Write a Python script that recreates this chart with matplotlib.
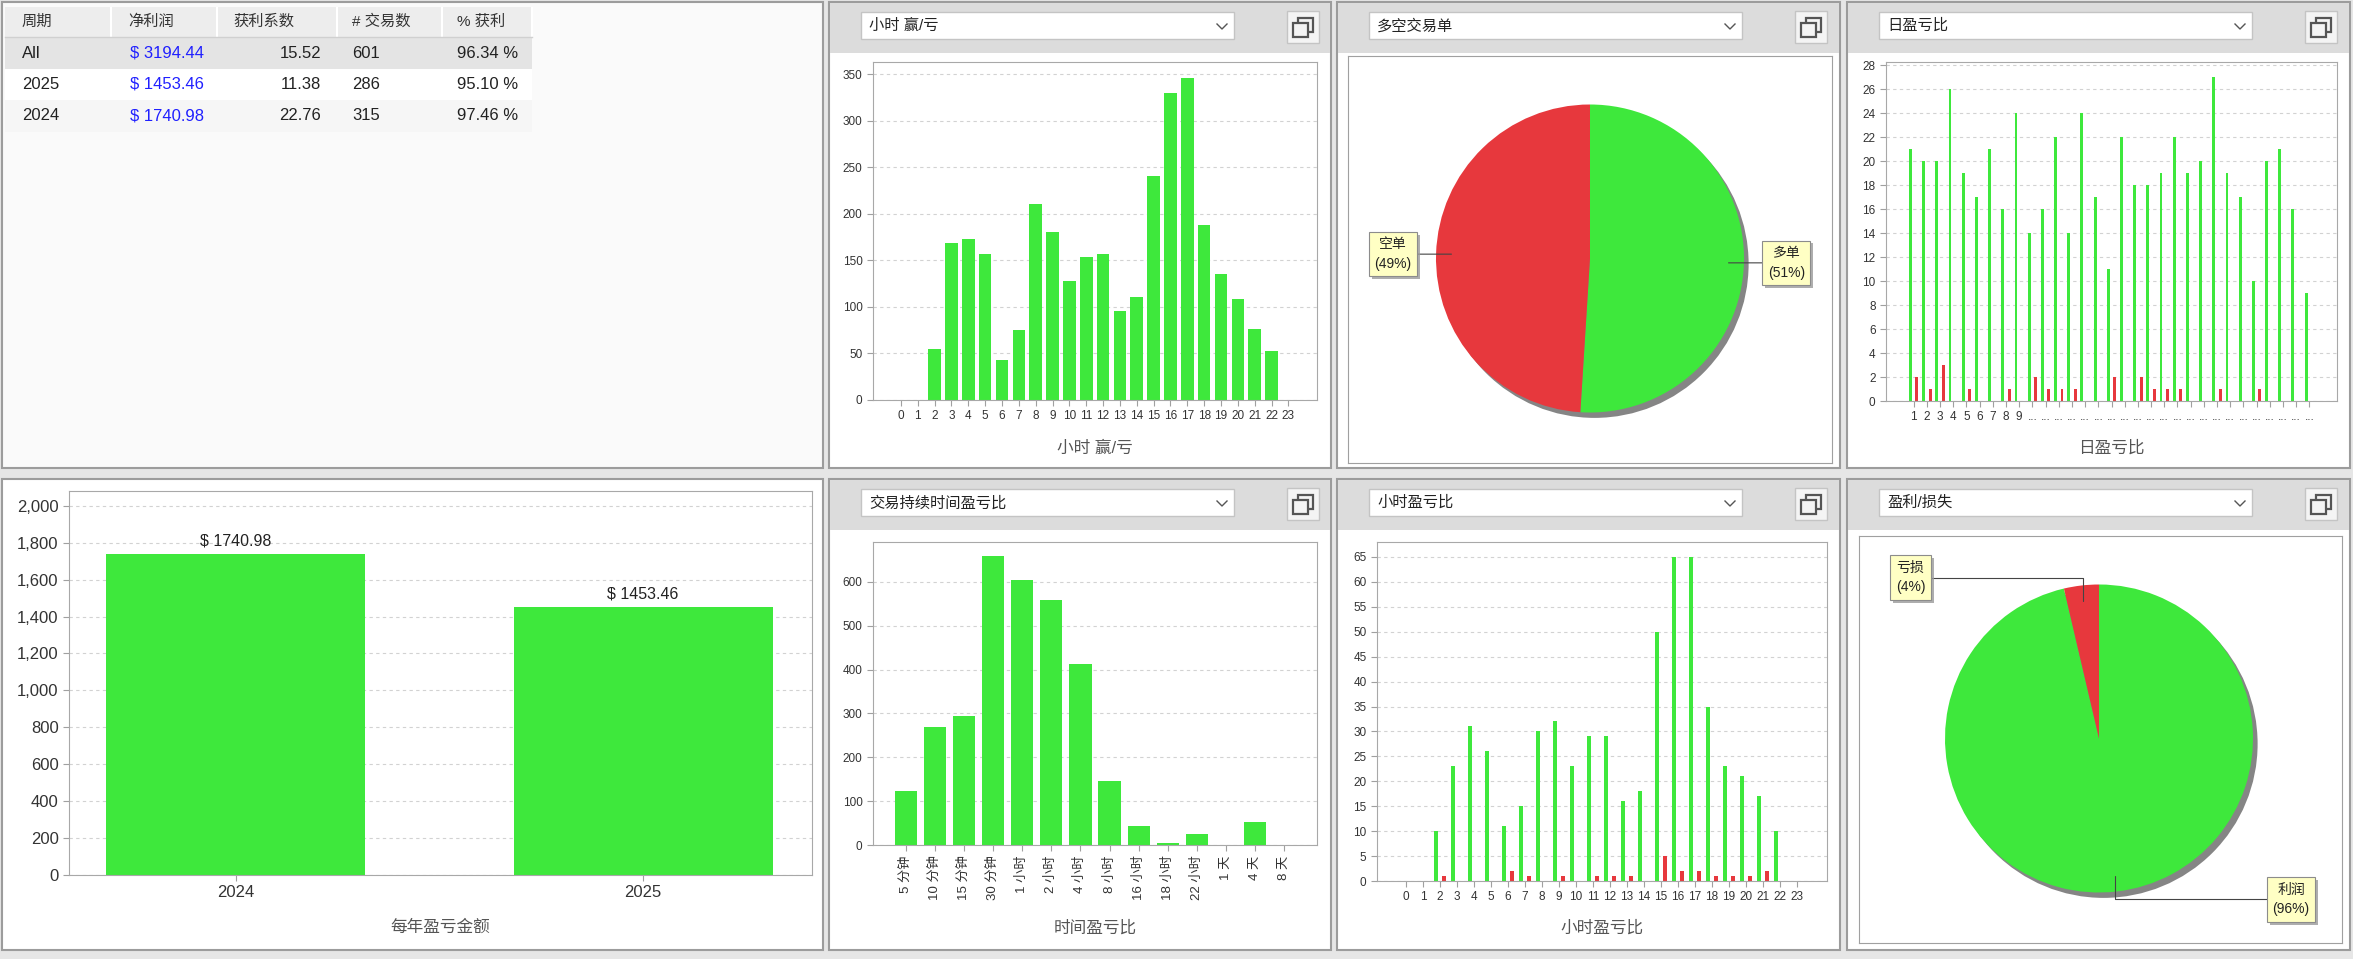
import matplotlib
matplotlib.use('Agg')
import matplotlib.pyplot as plt
from matplotlib.patches import Rectangle, Circle
from matplotlib.ticker import FuncFormatter
import matplotlib.patheffects as pe
import numpy as np

plt.rcParams['font.family'] = ['Liberation Sans', 'Noto Sans CJK SC']

W, H = 2353, 959
GREEN = '#3ee83c'
RED = '#e7383d'

# ---- data ----
table_cols = ['周期', '净利润', '获利系数', '# 交易数', '% 获利']
periods = ['All', '2025', '2024']
net_profit = [3194.44, 1453.46, 1740.98]
profit_factor = [15.52, 11.38, 22.76]
trade_count = [601, 286, 315]
win_pct = [96.34, 95.10, 97.46]

hours = list(range(24))
hour_trades = [0, 0, 55, 169, 173, 157, 43, 75, 210, 180, 128, 154,
               157, 96, 111, 241, 330, 346, 188, 135, 108, 76, 53, 0]

side_labels = ['多单', '空单']
side_pct = [51, 49]

day_wins = [21, 20, 20, 26, 19, 17, 21, 16, 24, 14, 16, 22, 14, 24, 17, 11,
            22, 18, 18, 19, 22, 19, 20, 27, 19, 17, 10, 20, 21, 16, 9]
day_losses = [2, 1, 3, 0, 1, 0, 0, 1, 0, 2, 1, 1, 1, 0, 0, 2,
              0, 2, 1, 1, 1, 0, 0, 1, 0, 0, 1, 0, 0, 0, 0]
day_labels = [str(i) for i in range(1, 10)] + ['...'] * 22

years = ['2024', '2025']
year_pnl = [1740.98, 1453.46]

durations = ['5 分钟', '10 分钟', '15 分钟', '30 分钟', '1 小时', '2 小时', '4 小时',
             '8 小时', '16 小时', '18 小时', '22 小时', '1 天', '4 天', '8 天']
duration_trades = [124, 269, 295, 660, 605, 559, 413, 145, 43, 4, 24, 0, 53, 0]

hour_wins = [0, 0, 10, 23, 31, 26, 11, 15, 30, 32, 23, 29,
             29, 16, 18, 50, 65, 65, 35, 23, 21, 17, 10, 0]
hour_losses = [0, 0, 1, 0, 0, 0, 2, 1, 0, 1, 0, 1,
               1, 1, 0, 5, 2, 2, 1, 1, 1, 2, 0, 0]

pl_labels = ['利润', '亏损']
pl_counts = [579, 22]

fig = plt.figure(figsize=(W / 100, H / 100), dpi=100, facecolor='#e6e6e6')
bg = fig.add_axes([0, 0, 1, 1])
bg.set_xlim(0, W)
bg.set_ylim(H, 0)
bg.axis('off')


def add_ax(x0, y0, x1, y1):
    return fig.add_axes([x0 / W, 1 - y1 / H, (x1 - x0) / W, (y1 - y0) / H])


def panel(x0, y0, x1, y1, title=None, fc='white'):
    bg.add_patch(Rectangle((x0, y0), x1 - x0, y1 - y0, fc=fc, ec='#9c9c9c', lw=1.5))
    if title is None:
        return
    bg.add_patch(Rectangle((x0 + 1, y0 + 1), x1 - x0 - 2, 50, fc='#dcdcdc', ec='none'))
    # dropdown
    bg.add_patch(Rectangle((x0 + 32, y0 + 10), 373, 27, fc='white', ec='#c4c4c4', lw=1))
    bg.text(x0 + 40, y0 + 24, title, fontsize=11, va='center', color='#222')
    cx, cy = x0 + 393, y0 + 24
    bg.plot([cx - 5, cx, cx + 5], [cy - 2, cy + 3, cy - 2], color='#555', lw=1)
    # maximise button
    bx, by = x0 + 458, y0 + 9
    bg.add_patch(Rectangle((bx, by), 32, 32, fc='#f4f4f4', ec='#c4c4c4', lw=1))
    bg.add_patch(Rectangle((bx + 11, by + 7), 15, 14, fc='none', ec='#555', lw=1.6))
    bg.add_patch(Rectangle((bx + 6, by + 12), 15, 14, fc='#f4f4f4', ec='#555', lw=1.6))


def style_bars(ax, xlim, ylim, yticks, xlabel, label_y, fs=8.5):
    x0, y0, w, h = ax.get_position().bounds
    ax.set_xlim(*xlim)
    ax.set_ylim(*ylim)
    ax.set_yticks(yticks)
    ax.grid(axis='y', color='#d2d2d2', ls=(0, (3, 3)), lw=0.8)
    ax.set_axisbelow(True)
    for s in ax.spines.values():
        s.set_color('#a8a8a8')
    ax.tick_params(color='#a0a0a0', labelcolor='#333', labelsize=fs, length=4)
    ax.set_xlabel(xlabel, fontsize=12, color='#555', va='center')
    bottom_px = (1 - y0) * H
    ax.xaxis.set_label_coords(0.5, -(label_y - bottom_px) / (h * H))


def label_pie(ax, wedges, labels, values, spots, bent):
    total = sum(values)
    for wdg, lab, v, (tx, ty), b in zip(wedges, labels, values, spots, bent):
        mid = np.deg2rad((wdg.theta1 + wdg.theta2) / 2)
        ax_, ay_ = 0.9 * np.cos(mid), 0.9 * np.sin(mid)
        cs = 'angle,angleA=0,angleB=90,rad=0' if b else 'arc3'
        t = ax.annotate(f'{lab}\n({round(v / total * 100)}%)', xy=(ax_, ay_), xytext=(tx, ty if b else ay_),
                        ha='center', va='center', fontsize=10, color='#222', linespacing=1.5,
                        bbox=dict(boxstyle='square,pad=0.4', fc='#ffffc4', ec='#8c8c8c', lw=0.8),
                        arrowprops=dict(arrowstyle='-', color='#444', lw=0.8, connectionstyle=cs,
                                        shrinkA=0, shrinkB=0))
        t.get_bbox_patch().set_path_effects([pe.withSimplePatchShadow(offset=(2, -2), shadow_rgbFace='#9a9a9a', alpha=0.8)])


def pie_axes(frame, center, r):
    x0, y0, x1, y1 = frame
    cx, cy = center
    ax = add_ax(x0, y0, x1, y1)
    ax.add_patch(Circle((0.03, -0.035), 1, fc='#858585', ec='none', zorder=0))
    return ax, ((x0 - cx) / r, (x1 - cx) / r), ((cy - y1) / r, (cy - y0) / r)


def finish_pie(ax, xl, yl):
    ax.set_xlim(*xl)
    ax.set_ylim(*yl)
    ax.set_aspect('auto')
    ax.set_frame_on(True)
    for s in ax.spines.values():
        s.set_color('#a0a0a0')


# ---- panels ----
panel(2, 2, 823, 468, fc='#fafafa')
panel(829, 2, 1331, 468, '小时 赢/亏')
panel(1337, 2, 1840, 468, '多空交易单')
panel(1847, 2, 2350, 468, '日盈亏比')
panel(2, 479, 823, 950)
panel(829, 479, 1331, 950, '交易持续时间盈亏比')
panel(1337, 479, 1840, 950, '小时盈亏比')
panel(1847, 479, 2350, 950, '盈利/损失')

# ---- summary table ----
col_edges = [5, 111, 217, 337, 442, 532]
bg.add_patch(Rectangle((5, 7), 527, 30, fc='#ededed', ec='none'))
for xe in col_edges[1:]:
    bg.plot([xe, xe], [8, 36], color='white', lw=1.5)
bg.plot([5, 532], [37, 37], color='#d0d0d0', lw=1)
row_fc = ['#e4e4e4', 'white', '#f6f6f6']
header_x = [22, 128, 233, 352, 457]
for txt, x in zip(table_cols, header_x):
    bg.text(x, 22, txt, fontsize=11, va='center', color='#333')
for i, p in enumerate(periods):
    top = 37 + i * 31.5
    yc = top + 16
    bg.add_patch(Rectangle((5, top), 527, 31.5, fc=row_fc[i], ec='none'))
    bg.text(22, yc, p, fontsize=12, va='center', color='#222')
    bg.text(130, yc, f'$ {net_profit[i]:.2f}', fontsize=12, va='center', color='#2020ff')
    bg.text(321, yc, f'{profit_factor[i]:.2f}', fontsize=12, va='center', ha='right', color='#222')
    bg.text(352, yc, f'{trade_count[i]}', fontsize=12, va='center', color='#222')
    bg.text(457, yc, f'{win_pct[i]:.2f} %', fontsize=12, va='center', color='#222')

# ---- hourly win/loss count ----
ax = add_ax(873, 62, 1317, 400)
ax.bar(hours, hour_trades, width=0.75, color=GREEN)
ax.set_xticks(hours)
style_bars(ax, (-1.66, 24.7), (0, 363), range(0, 351, 50), '小时 赢/亏', 448)

# ---- long / short pie ----
ax, xl, yl = pie_axes((1348, 56, 1832, 463), (1590, 258.5), 154)
wedges, _ = ax.pie(side_pct, colors=[GREEN, RED], startangle=90, counterclock=False,
                   wedgeprops=dict(linewidth=0))
label_pie(ax, wedges, side_labels, side_pct, [(1.275, 0), (-1.28, 0)], [False, False])
finish_pie(ax, xl, yl)

# ---- daily win/loss ----
ax = add_ax(1886, 62, 2337, 401)
days = np.arange(1, len(day_wins) + 1)
ax.bar(days - 0.245, day_wins, width=0.22, color=GREEN)
ax.bar(days + 0.245, day_losses, width=0.22, color=RED)
ax.set_xticks(days, day_labels)
style_bars(ax, (-1.1, 33.1), (0, 28.25), range(0, 29, 2), '日盈亏比', 448)

# ---- yearly P/L ----
ax = add_ax(69, 491, 812, 875)
xs = np.arange(len(years))
ax.bar(xs, year_pnl, width=0.636, color=GREEN)
for x, v in zip(xs, year_pnl):
    ax.annotate(f'$ {v:.2f}', xy=(x, v), xytext=(0, 4), textcoords='offset points',
                ha='center', va='bottom', fontsize=11.5, color='#222')
ax.set_xticks(xs, years)
style_bars(ax, (-0.41, 1.415), (0, 2080), range(0, 2001, 200), '每年盈亏金额', 927, fs=12)
ax.yaxis.set_major_formatter(FuncFormatter(lambda v, p: f'{int(v):,}'))

# ---- trade duration ----
ax = add_ax(873, 542, 1317, 845)
xs = np.arange(len(durations))
ax.bar(xs, duration_trades, width=0.76, color=GREEN)
ax.set_xticks(xs, durations, rotation=90)
style_bars(ax, (-1.13, 14.13), (0, 691), range(0, 601, 100), '时间盈亏比', 928)
ax.tick_params(axis='x', labelsize=9.5)

# ---- hourly win/loss ratio ----
ax = add_ax(1377, 542, 1827, 881)
hx = np.array(hours)
ax.bar(hx - 0.25, hour_wins, width=0.23, color=GREEN)
ax.bar(hx + 0.25, hour_losses, width=0.23, color=RED)
ax.set_xticks(hours)
style_bars(ax, (-1.7, 24.76), (0, 68), range(0, 66, 5), '小时盈亏比', 928)

# ---- profit / loss pie ----
ax, xl, yl = pie_axes((1859, 536, 2342, 943), (2099, 738.5), 154)
wedges, _ = ax.pie(pl_counts, colors=[GREEN, RED], startangle=90, counterclock=False,
                   wedgeprops=dict(linewidth=0))
label_pie(ax, wedges, pl_labels, pl_counts, [(1.247, -1.045), (-1.224, 1.045)], [True, True])
finish_pie(ax, xl, yl)

fig.savefig('out.png', dpi=100, facecolor=fig.get_facecolor())
